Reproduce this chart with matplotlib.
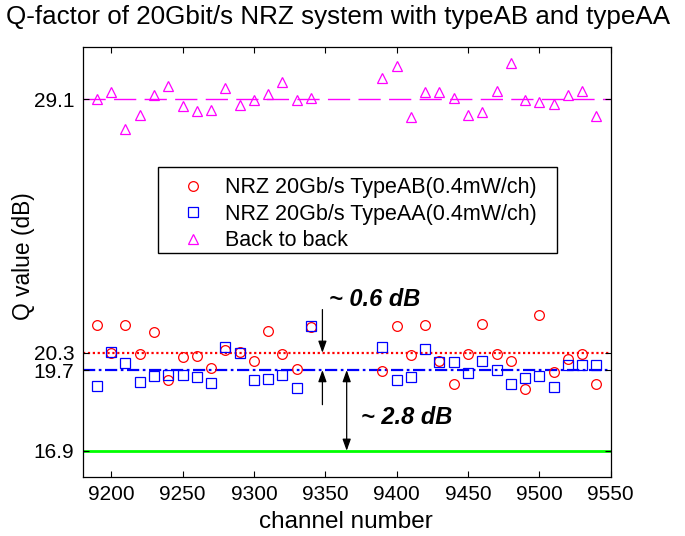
import matplotlib
matplotlib.use('Agg')
import matplotlib.pyplot as plt
from matplotlib.patches import Rectangle

# ---------------- data ----------------
channels = [9190, 9200, 9210, 9220, 9230, 9240, 9250, 9260, 9270, 9280, 9290,
            9300, 9310, 9320, 9330, 9340,
            9390, 9400, 9410, 9420, 9430, 9440, 9450, 9460, 9470, 9480, 9490,
            9500, 9510, 9520, 9530, 9540]

q_typeab = [21.25, 20.30, 21.25, 20.26, 21.03, 19.34, 20.16, 20.20, 19.78, 20.41,
            20.32, 20.03, 21.07, 20.26, 19.74, 21.20,
            19.68, 21.22, 20.24, 21.28, 20.01, 19.20, 20.26, 21.31, 20.27, 20.03,
            19.05, 21.62, 19.62, 20.09, 20.27, 19.20]

q_typeaa = [19.16, 20.33, 19.95, 19.29, 19.51, 19.53, 19.54, 19.46, 19.26, 20.49,
            20.30, 19.34, 19.39, 19.52, 19.07, 21.22,
            20.50, 19.37, 19.46, 20.43, 19.97, 19.98, 19.60, 20.03, 19.72, 19.20,
            19.41, 19.51, 19.12, 19.86, 19.87, 19.87]

q_b2b = [29.12, 29.35, 28.07, 28.56, 29.25, 29.56, 28.87, 28.69, 28.73, 29.48,
         28.89, 29.08, 29.29, 29.69, 29.08, 29.13,
         29.83, 30.26, 28.48, 29.34, 29.34, 29.13, 28.56, 28.67, 29.39, 30.36,
         29.08, 29.00, 28.94, 29.25, 29.39, 28.52]

level_b2b = 29.1
level_ab = 20.3
level_aa = 19.7
level_limit = 16.9

x_ticks = [9200, 9250, 9300, 9350, 9400, 9450, 9500, 9550]
y_ticks = [16.9, 19.7, 20.3, 29.1]
y_ticklabels = ['16.9', '19.7', '20.3', '29.1']

labels = ['NRZ 20Gb/s TypeAB(0.4mW/ch)', 'NRZ 20Gb/s TypeAA(0.4mW/ch)', 'Back to back']
title = 'Q-factor of 20Gbit/s NRZ system with typeAB and typeAA'

# ---------------- plot ----------------
plt.rcParams['font.family'] = ['Liberation Sans', 'DejaVu Sans']

fig = plt.figure(figsize=(6.85, 5.36), dpi=100)
ax = fig.add_axes([0.1207, 0.1106, 0.7708, 0.8022])

MAG = '#ff00ff'
ax.axhline(level_b2b, color=MAG, lw=1.0, linestyle=(0, (16, 6)), zorder=1)
ax.axhline(level_ab, color='#ff0000', lw=1.6, linestyle=(0, (1, 1.2)), zorder=1)
ax.axhline(level_aa, color='#0000ff', lw=1.6, linestyle=(0, (5.5, 1.6, 1.2, 1.6)), zorder=1)
ax.axhline(level_limit, color='#00ff00', lw=2.0, zorder=1)

ax.plot(channels, q_typeab, 'o', mfc='none', mec='#ff0000', ms=7, mew=0.9,
        label=labels[0], zorder=3)
ax.plot(channels, q_typeaa, 's', mfc='none', mec='#0000ff', ms=6.5, mew=0.9,
        label=labels[1], zorder=3)
ax.plot(channels, q_b2b, '^', mfc='none', mec=MAG, ms=7.5, mew=0.9,
        label=labels[2], zorder=3)

ax.set_xlim(9180, 9550)
ax.set_ylim(16.0, 30.92)
ax.set_xticks(x_ticks)
ax.set_yticks(y_ticks)
ax.set_yticklabels(y_ticklabels)
ax.tick_params(direction='in', top=True, right=True, length=4.5, width=0.8,
               labelsize=15, pad=6)
for s in ax.spines.values():
    s.set_linewidth(0.9)

leg = ax.legend(loc='upper left', bbox_to_anchor=(0.143, 0.7411), fontsize=15.5,
                frameon=False, borderpad=0.9, handlelength=1.4, handletextpad=0.8,
                labelspacing=0.25, borderaxespad=0)
ax.add_patch(Rectangle((0.1432, 0.5195), 0.8989 - 0.1432, 0.7195 - 0.5195,
                       transform=ax.transAxes, fill=True, facecolor='white',
                       edgecolor='black', lw=1.0, zorder=4))
leg.set_zorder(5)

# arrows / annotations
arr = dict(arrowstyle='-|>,head_length=0.7,head_width=0.25', color='black',
           lw=0.9, shrinkA=0, shrinkB=0, mutation_scale=10)
ax.annotate('', xy=(9348, level_ab), xytext=(9348, 21.80), arrowprops=arr)
ax.annotate('', xy=(9348, level_aa), xytext=(9348, 18.50), arrowprops=arr)
arr2 = dict(arr)
arr2['arrowstyle'] = '<|-|>,head_length=0.7,head_width=0.25'
ax.annotate('', xy=(9365, level_limit), xytext=(9365, level_aa), arrowprops=arr2)

ax.text(9352.5, 22.14, '~ 0.6 dB', fontsize=17, fontweight='bold',
        fontstyle='italic', ha='left', va='center')
ax.text(9374.9, 18.05, '~ 2.8 dB', fontsize=17, fontweight='bold',
        fontstyle='italic', ha='left', va='center')

fig.text(0.494, 1 - 17 / 536, title, ha='center', va='center', fontsize=18.7)
fig.text(0.5044, 1 - 522 / 536, 'channel number', ha='center', va='center', fontsize=17.5)
fig.text(0.0336, 1 - 256 / 536, 'Q value (dB)', ha='center', va='center',
         rotation=90, fontsize=16.4)

fig.savefig('out.png', dpi=100)
